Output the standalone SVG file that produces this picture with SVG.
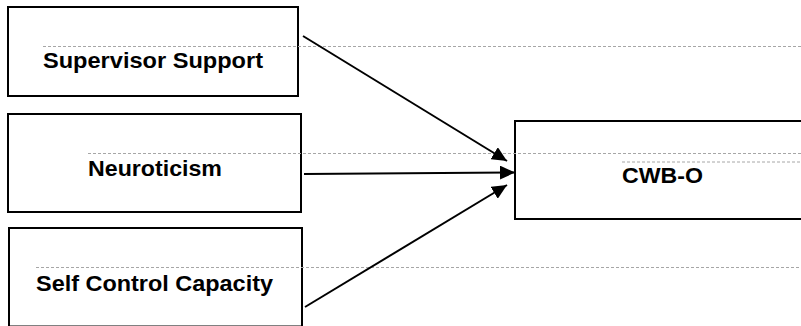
<svg xmlns="http://www.w3.org/2000/svg" width="801" height="326" viewBox="0 0 801 326">
  <style>
    .box { fill: #ffffff; stroke: #000000; stroke-width: 2; }
    .lbl { font-family: "Liberation Sans", Arial, sans-serif; font-weight: bold; font-size: 22.5px; fill: #000000; }
    .guide { stroke: #a6a6a6; stroke-width: 1; stroke-dasharray: 3 2; fill: none; }
    .conn { stroke: #000000; stroke-width: 2; fill: none; }
  </style>
  <defs>
    <marker id="arrow" markerUnits="userSpaceOnUse" markerWidth="16" markerHeight="14" refX="15" refY="7" orient="auto">
      <path d="M0,0 L15,7 L0,14 Z" fill="#000000"/>
    </marker>
  </defs>
  <rect width="801" height="326" fill="#ffffff"/>
  <g id="node-supervisor">
    <rect class="box" x="8" y="7" width="290" height="89"/>
    <text class="lbl" x="43" y="68" textLength="220" lengthAdjust="spacingAndGlyphs">Supervisor Support</text>
  </g>
  <g id="node-neuroticism">
    <rect class="box" x="8" y="114" width="293" height="98"/>
    <text class="lbl" x="88" y="176" textLength="134" lengthAdjust="spacingAndGlyphs">Neuroticism</text>
  </g>
  <g id="node-selfcontrol">
    <rect class="box" x="9" y="228" width="293" height="98.5"/>
    <text class="lbl" x="36" y="291" textLength="237" lengthAdjust="spacingAndGlyphs">Self Control Capacity</text>
  </g>
  <g id="node-cwbo">
    <rect class="box" x="515" y="121" width="290" height="98"/>
    <text class="lbl" x="622" y="183" textLength="81" lengthAdjust="spacingAndGlyphs">CWB-O</text>
  </g>
  <g id="guides">
    <line class="guide" x1="43" y1="46.5" x2="801" y2="46.5"/>
    <line class="guide" x1="88" y1="153.5" x2="801" y2="153.5"/>
    <line class="guide" x1="622" y1="162" x2="801" y2="162"/>
    <line class="guide" x1="36" y1="267.5" x2="801" y2="267.5"/>
  </g>
  <g id="connectors">
    <line class="conn" x1="303" y1="36" x2="507" y2="161" marker-end="url(#arrow)"/>
    <line class="conn" x1="304" y1="174" x2="515" y2="172.5" marker-end="url(#arrow)"/>
    <line class="conn" x1="305" y1="307" x2="507" y2="185" marker-end="url(#arrow)"/>
  </g>
</svg>
